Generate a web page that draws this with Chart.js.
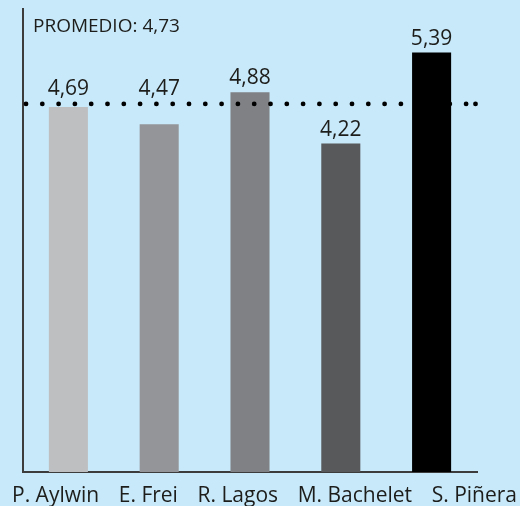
<!DOCTYPE html>
<html><head><meta charset="utf-8">
<script src="https://cdn.jsdelivr.net/npm/chart.js@4/dist/chart.umd.min.js"></script>
<style>
html,body{margin:0;padding:0;background:#c7e9f9;}
#wrap{position:relative;width:520px;height:506px;}
</style></head><body>
<div id="wrap"><canvas id="c" width="520" height="506"></canvas></div>
<script>
const categories = ['P. Aylwin', 'E. Frei', 'R. Lagos', 'M. Bachelet', 'S. Piñera'];
const values = [4.69, 4.47, 4.88, 4.22, 5.39];
const average = [4.73];
const averageLabel = ['PROMEDIO'];
const barColors = ['#bebfc1', '#949598', '#808184', '#58595b', '#000000'];

const fmt = v => v.toFixed(2).replace('.', ',');
const textColor = '#1d1d1b';

const overlay = {
  id: 'overlay',
  afterDatasetsDraw(chart) {
    const { ctx, chartArea: a, scales: { y } } = chart;
    const ly = y.getPixelForValue(average[0]);
    ctx.save();
    ctx.fillStyle = '#000';
    const step = 16.3, r = 2.4;
    for (let x = a.left + 3; x < a.right - 6; x += step) {
      ctx.beginPath(); ctx.arc(x, ly, r, 0, Math.PI * 2); ctx.fill();
    }
    ctx.beginPath(); ctx.arc(a.right - 1.5, ly, r, 0, Math.PI * 2); ctx.fill();

    ctx.fillStyle = textColor;
    ctx.font = '21px "Open Sans"';
    ctx.textAlign = 'center';
    ctx.textBaseline = 'alphabetic';
    const meta = chart.getDatasetMeta(0);
    meta.data.forEach((bar, i) => {
      let yb = bar.y - 8;
      // if the label would collide with the average line, lift it above the line
      if (yb + 5 >= ly - 3 && yb - 16 <= ly + 3) yb = ly - 9;
      ctx.fillText(fmt(values[i]), bar.x, yb);
    });

    ctx.font = '19px "Open Sans"';
    ctx.textAlign = 'left';
    ctx.fillText(averageLabel[0] + ': ' + fmt(average[0]), a.left + 10, a.top + 23);

    ctx.font = '21px "Open Sans"';
    const widths = categories.map(c => ctx.measureText(c).width);
    const L = 12, R = chart.width - 3;
    const gap = (R - L - widths.reduce((s, w) => s + w, 0)) / (categories.length - 1);
    let x = L;
    categories.forEach((c, i) => { ctx.fillText(c, x, a.bottom + 30); x += widths[i] + gap; });
    ctx.restore();
  }
};

new Chart(document.getElementById('c'), {
  type: 'bar',
  data: {
    labels: categories,
    datasets: [{
      data: values,
      backgroundColor: barColors,
      borderWidth: 0,
      barPercentage: 0.43,
      categoryPercentage: 1
    }]
  },
  options: {
    responsive: false,
    devicePixelRatio: 1,
    animation: false,
    layout: { padding: { left: 23, right: 43, top: 9, bottom: 34 } },
    plugins: { legend: { display: false }, tooltip: { enabled: false } },
    scales: {
      x: {
        z: 1,
        grid: { display: false, drawTicks: false },
        ticks: { display: false },
        border: { display: true, color: '#3c3c3c', width: 2 }
      },
      y: {
        z: 1,
        min: 0, max: 5.95,
        grid: { display: false, drawTicks: false },
        ticks: { display: false },
        border: { display: true, color: '#3c3c3c', width: 2 }
      }
    }
  },
  plugins: [overlay]
});
</script>
</body></html>
